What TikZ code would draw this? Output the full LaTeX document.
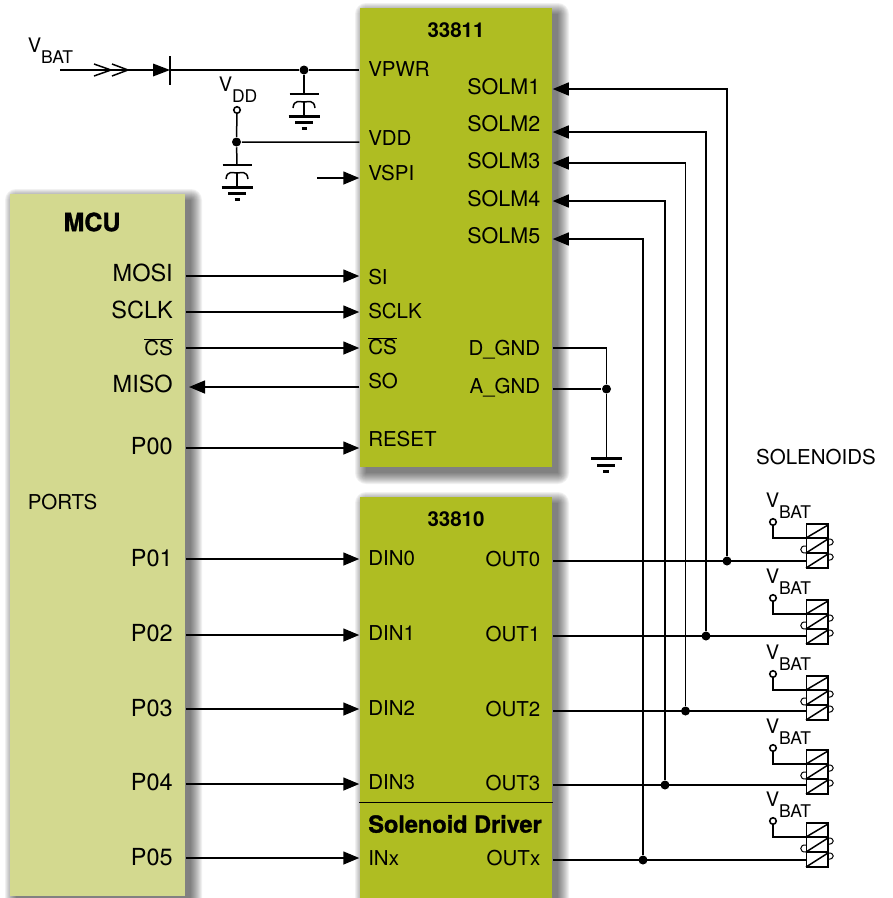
\documentclass[tikz,border=0pt]{standalone}
\usepackage{fontspec}
\setmainfont{TeX Gyre Heros}
\newfontfamily\heavyfont[FakeBold=1.3]{TeX Gyre Heros Bold}
\usetikzlibrary{arrows.meta, positioning}
\definecolor{mcuGreen}{HTML}{D3D98F}
\definecolor{icGreen}{HTML}{AFBD22}
\newcommand{\supply}[1]{V\raisebox{-11pt}{\fontsize{17.5}{18}\selectfont #1}}
\newcommand{\barred}[1]{$\overline{\mbox{#1}}$}

\begin{document}
\begin{tikzpicture}[x=1pt,y=-1pt,line width=1.5pt,on grid,font=\fontsize{20.5}{24}\selectfont]
	\tikzstyle{PinIn} = [text width=85pt, align=left, inner sep=0pt, font=\fontsize{20.5}{24}\selectfont]
	\tikzstyle{PinOut} = [text width=85pt, align=right, inner sep=0pt, font=\fontsize{20.5}{24}\selectfont]
	\tikzstyle{PinMcu} = [PinOut, font=\fontsize{23.5}{24}\selectfont]
	\tikzstyle{PinSolm} = [PinOut, font=\fontsize{21.5}{24}\selectfont]
	\tikzstyle{Title} = [inner sep=0pt, font=\fontsize{20.5}{24}\selectfont\bfseries]
	\tikzstyle{Heavy} = [inner sep=0pt, font=\fontsize{23.5}{24}\selectfont\heavyfont]
	\tikzstyle{Supply} = [inner sep=0pt, anchor=base west, font=\fontsize{20}{24}\selectfont]
	\tikzstyle{Dot} = [circle, fill=black, inner sep=0pt, minimum size=9pt]
	\tikzstyle{Terminal} = [circle, draw=black, fill=white, line width=1.6pt, inner sep=0pt, minimum size=6.5pt]
	\tikzstyle{Coil} = [rectangle, draw=black, inner sep=0pt, minimum width=21.5pt, minimum height=44pt]
	\tikzstyle{arrow} = [-{Triangle[length=16pt,width=13pt]}]
	\tikzstyle{bar} = [line width=3pt]

	\useasboundingbox (0,0) rectangle (893,898);

	% shadows first
	\foreach \xa/\ya/\xb/\yb in {10/194/185/896, 360/8/552/467, 360/497/552/910}
		\foreach \k in {0,...,11}
			\fill[black, opacity=.055, rounded corners=\k pt] (\xa+6-\k,\ya+6-\k) rectangle (\xb+6+\k,\yb+6+\k);

	\node (mcu) [rectangle, fill=mcuGreen, minimum width=175pt, minimum height=702pt] at (97.5,545) {};
	\node (ic1) [rectangle, fill=icGreen, minimum width=192pt, minimum height=459pt] at (456,237.5) {};
	\node (ic2) [rectangle, fill=icGreen, minimum width=192pt, minimum height=413pt] at (456,703.5) {};

	\node (mcuTitle) [Heavy, font=\fontsize{25}{24}\selectfont\heavyfont] at (92,222) {MCU};
	\node (ic1Title) [Title] at (456,30) {33811};
	\node (ic2Title) [Title] at (456,519) {33810};
	\node (driverTitle) [Heavy] at (455,824) {Solenoid Driver};
	\node (ports) [inner sep=0pt, anchor=west] at (27,502) {PORTS};
	\node (solenoids) [inner sep=0pt] at (816,457) {SOLENOIDS};

	\node (mosi) [PinMcu, anchor=east] at (173.5,273) {MOSI};
	\node (sclkOut) [PinMcu, below = 37pt of mosi] {SCLK};
	\node (csOut) [PinOut, below = 37pt of sclkOut] {\barred{CS}};
	\node (miso) [PinMcu, below = 37pt of csOut] {MISO};
	\node (p00) [PinMcu, below = 62pt of miso] {P00};
	\node (p01) [PinMcu, below = 112pt of p00] {P01};
	\node (p02) [PinMcu, below = 75pt of p01] {P02};
	\node (p03) [PinMcu, below = 75pt of p02] {P03};
	\node (p04) [PinMcu, below = 74pt of p03] {P04};
	\node (p05) [PinMcu, below = 75pt of p04] {P05};

	\node (vpwr) [PinIn, anchor=west] at (367.5,69) {VPWR};
	\node (vdd) [PinIn, below = 69pt of vpwr] {VDD};
	\node (vspi) [PinIn, below = 35pt of vdd] {VSPI};
	\node (si) [PinIn, below = 104pt of vspi] {SI};
	\node (sclkIn) [PinIn, below = 34pt of si] {SCLK};
	\node (csIn) [PinIn, below = 35pt of sclkIn] {\barred{CS}};
	\node (so) [PinIn, below = 35pt of csIn] {SO};
	\node (reset) [PinIn, below = 58pt of so] {RESET};

	\node (solm1) [PinSolm, anchor=east] at (541,87) {SOLM1};
	\node (solm2) [PinSolm, below = 37pt of solm1] {SOLM2};
	\node (solm3) [PinSolm, below = 37pt of solm2] {SOLM3};
	\node (solm4) [PinSolm, below = 38pt of solm3] {SOLM4};
	\node (solm5) [PinSolm, below = 37pt of solm4] {SOLM5};
	\node (dgnd) [PinOut, below = 114pt of solm5] {D\_GND};
	\node (agnd) [PinOut, below = 38pt of dgnd] {A\_GND};

	\node (din0) [PinIn, anchor=west] at (367.5,558) {DIN0};
	\node (din1) [PinIn, below = 75pt of din0] {DIN1};
	\node (din2) [PinIn, below = 75pt of din1] {DIN2};
	\node (din3) [PinIn, below = 74pt of din2] {DIN3};
	\node (inx) [PinIn, below = 76pt of din3] {INx};

	\node (out0) [PinOut, anchor=east] at (541,559) {OUT0};
	\node (out1) [PinOut, below = 75pt of out0] {OUT1};
	\node (out2) [PinOut, below = 75pt of out1] {OUT2};
	\node (out3) [PinOut, below = 74pt of out2] {OUT3};
	\node (outx) [PinOut, below = 75pt of out3] {OUTx};

	% MCU to the two chips
	\foreach \a/\b/\c/\y in {mosi/si/ic1/276, sclkOut/sclkIn/ic1/312, csOut/csIn/ic1/348, p00/reset/ic1/448, p01/din0/ic2/559, p02/din1/ic2/635, p03/din2/ic2/709, p04/din3/ic2/784, p05/inx/ic2/858} {
		\coordinate (\a End) at (mcu.east |- 0,\y);
		\coordinate (\b End) at (\c.west |- 0,\y);
		\draw[arrow] (\a End) -- (\b End);
	}
	\coordinate (misoEnd) at (189,387);
	\coordinate (soEnd) at (ic1.west |- 0,387);
	\draw[arrow] (soEnd) -- (misoEnd);
	\coordinate (vspiStart) at (317,178);
	\coordinate (vspiEnd) at (ic1.west |- vspiStart);
	\draw[arrow] (vspiStart) -- (vspiEnd);
	\draw (ic2.west |- 0,802.5) -- (ic2.east |- 0,802.5);

	% supply side
	\node (vbat) [Supply] at (27,52) {\supply{BAT}};
	\coordinate (vbatStart) at (60,70);
	\coordinate (diodeIn) at (153,70);
	\coordinate (diodeOut) at (170,70);
	\coordinate (vpwrEnd) at (ic1.west |- diodeOut);
	\coordinate (vddEnd) at (ic1.west |- 0,142);
	\node (dotPwr) [Dot] at (304,70) {};
	\node (dotVdd) [Dot] at (236.5,142) {};
	\node (vddText) [Supply] at (218,91) {\supply{DD}};
	\node (vddPin) [Terminal] at (237,110) {};
	\draw (vbatStart) -- (diodeIn);
	\draw (94,64) -- (111,70) -- (94,76);
	\draw (112,64) -- (128,70) -- (112,76);
	\fill (diodeIn) -- ++(0,-6.5) -- (diodeOut) -- ++(-17,6.5) -- cycle;
	\draw (170,56) -- (170,85);
	\draw (diodeOut) -- (dotPwr) -- (vpwrEnd);
	\draw (vddPin) -- (dotVdd) -- (vddEnd);

	\foreach \n/\x/\y in {capPwr/304/94, capVdd/237/165} {
		\coordinate (\n) at (\x,\y);
		\draw (\x-14.5,\y) -- (\x+14.5,\y);
		\draw (\x-11,\y+14) .. controls (\x-10,\y+5) and (\x-4,\y+8) .. (\x,\y+8) .. controls (\x+4,\y+8) and (\x+10,\y+5) .. (\x+11,\y+14);
		\draw (\x,\y+8) -- (\x,\y+22);
		\draw[bar] (\x-15.5,\y+22) -- (\x+15.5,\y+22);
		\draw[bar] (\x-9,\y+28) -- (\x+9,\y+28);
		\draw[bar] (\x-2.5,\y+34) -- (\x+2.5,\y+34);
	}
	\draw (dotPwr) -- (capPwr);
	\draw (dotVdd) -- (capVdd);

	% ground
	\coordinate (dgndEnd) at (ic1.east |- 0,348);
	\coordinate (agndEnd) at (ic1.east |- 0,389);
	\node (dotGnd) [Dot] at (606.5,389) {};
	\coordinate (gnd) at (606.5,458);
	\draw (dgndEnd) -| (dotGnd);
	\draw (agndEnd) -- (dotGnd) -- (gnd);
	\draw[bar] (591,458) -- (622,458);
	\draw[bar] (597,465) -- (615,465);
	\draw[bar] (603,471) -- (609,471);

	% solenoids
	\foreach \i/\top/\wire/\o/\s/\sy/\sx in {0/524/561/out0/solm1/89/727, 1/600/636/out1/solm2/132/706, 2/676/711/out2/solm3/163/685.5, 3/750/785/out3/solm4/201/665, 4/823/860/outx/solm5/239/643} {
		\node (sol\i) [Coil] at (817,\top+22) {};
		\node (vbat\i) [Supply] at (765,\top-17) {\supply{BAT}};
		\node (term\i) [Terminal] at (773,\top-2) {};
		\coordinate (lead\i) at (sol\i.west |- 0,\top+14);
		\draw (term\i) |- (lead\i);
		\draw (lead\i) -- (sol\i.east |- 0,\top+14);
		\draw (sol\i.west |- 0,\top+29) -- (sol\i.east |- 0,\top+29);
		\draw (806,\top+14) -- (828,\top+1);
		\draw (806,\top+29) -- (828,\top+15);
		\draw (806,\top+44) -- (828,\top+30);
		\draw[line width=1pt] (828,\top+15) .. controls (835,\top+14) and (835,\top+22) .. (828,\top+21);
		\draw[line width=1pt] (828,\top+30) .. controls (835,\top+29) and (835,\top+37) .. (828,\top+36);
		\draw[line width=1pt] (806,\top+22) .. controls (799,\top+21) and (799,\top+30) .. (806,\top+29);
		\coordinate (\o End) at (ic2.east |- 0,\wire);
		\coordinate (coil\i) at (sol\i.west |- 0,\wire);
		\node (tap\i) [Dot] at (\sx,\wire) {};
		\draw (\o End) -- (coil\i);
		\coordinate (\s End) at (ic1.east |- 0,\sy);
		\draw[arrow] (tap\i) |- (\s End);
	}

\end{tikzpicture}
\end{document}
